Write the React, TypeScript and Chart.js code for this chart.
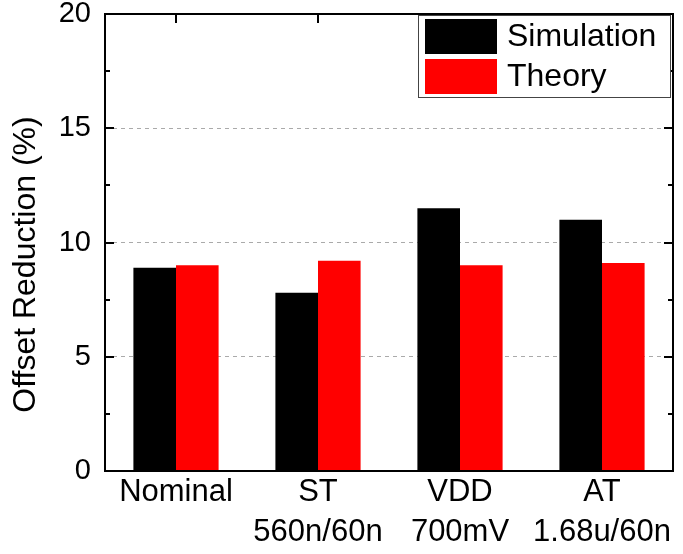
import React, { useEffect, useRef } from "react";
import { Chart, registerables } from "chart.js";

Chart.register(...registerables);

const categories: string[][] = [["Nominal"], ["ST", "560n/60n"], ["VDD", "700mV"], ["AT", "1.68u/60n"]];
const simulation: number[] = [8.9, 7.8, 11.5, 11.0];
const theory: number[] = [9.0, 9.2, 9.0, 9.1];
const yTitle = "Offset Reduction (%)";
const yMin = 0;
const yMax = 20;
const yStep = 5;
const yMinorStep = 2.5;

const FONT = "'Liberation Sans', Arial, sans-serif";

const framePlugin = {
  id: "frameTicks",
  afterDatasetsDraw(chart: any) {
    const { ctx, chartArea, scales } = chart;
    const { left, right, top, bottom } = chartArea;
    const y = scales.y;
    const x = scales.x;
    ctx.save();
    ctx.strokeStyle = "#000";
    ctx.lineWidth = 2;
    ctx.strokeRect(left, top, right - left, bottom - top);
    ctx.beginPath();
    for (let v = yMin; v <= yMax + 1e-9; v += yMinorStep) {
      const py = Math.round(y.getPixelForValue(v));
      const major = Math.abs(v / yStep - Math.round(v / yStep)) < 1e-6;
      const len = major ? 9 : 5;
      ctx.moveTo(left, py);
      ctx.lineTo(left + len, py);
      ctx.moveTo(right, py);
      ctx.lineTo(right - len, py);
    }
    for (let i = 0; i < categories.length; i++) {
      const px = Math.round(x.getPixelForValue(i));
      ctx.moveTo(px, top);
      ctx.lineTo(px, top + 9);
    }
    ctx.stroke();

    // legend
    const boxW = 252;
    const boxH = 82;
    const bx = right - 3 - boxW;
    const by = top + 1;
    ctx.fillStyle = "#fff";
    ctx.fillRect(bx, by, boxW, boxH);
    ctx.lineWidth = 1;
    ctx.strokeStyle = "#444";
    ctx.strokeRect(bx + 0.5, by + 0.5, boxW, boxH);
    const ds = chart.data.datasets;
    ctx.font = `32px ${FONT}`;
    ctx.textAlign = "left";
    ctx.textBaseline = "middle";
    ds.forEach((d: any, i: number) => {
      const sy = by + 4 + i * 40;
      ctx.fillStyle = d.backgroundColor;
      ctx.fillRect(bx + 7, sy, 72, 35);
      ctx.fillStyle = "#000";
      ctx.fillText(d.label, bx + 89, sy + 18);
    });

    // y title
    ctx.save();
    ctx.translate(26, (top + bottom) / 2 + 22);
    ctx.rotate(-Math.PI / 2);
    ctx.font = `32px ${FONT}`;
    ctx.textAlign = "center";
    ctx.textBaseline = "middle";
    ctx.fillStyle = "#000";
    ctx.fillText(yTitle, 0, 0);
    ctx.restore();
    ctx.restore();
  },
};

export default function App() {
  const ref = useRef<HTMLCanvasElement | null>(null);
  useEffect(() => {
    if (!ref.current) return;
    const chart = new Chart(ref.current, {
      type: "bar",
      data: {
        labels: categories,
        datasets: [
          { label: "Simulation", data: simulation, backgroundColor: "#000000", borderWidth: 0 },
          { label: "Theory", data: theory, backgroundColor: "#ff0000", borderWidth: 0 },
        ],
      },
      options: {
        animation: false,
        responsive: true,
        maintainAspectRatio: false,
        layout: { padding: { left: 0, right: 10, top: 14, bottom: 0 } },
        plugins: { legend: { display: false }, tooltip: { enabled: false } },
        datasets: { bar: { categoryPercentage: 0.6, barPercentage: 1.0 } },
        scales: {
          x: {
            grid: { display: false, drawTicks: false },
            border: { display: false },
            ticks: {
              color: "#000",
              font: { family: FONT, size: 31, lineHeight: 1.27 },
              padding: 2,
              maxRotation: 0,
              autoSkip: false,
            },
            afterFit: (s: any) => {
              s.height = 83;
              s.paddingLeft = 0;
              s.paddingRight = 0;
            },
          },
          y: {
            min: yMin,
            max: yMax,
            ticks: {
              stepSize: yStep,
              color: "#000",
              font: { family: FONT, size: 29 },
              padding: 14,
            },
            grid: {
              drawTicks: false,
              color: (c: any) => (c.tick && (c.tick.value === yMin || c.tick.value === yMax) ? "rgba(0,0,0,0)" : "#aaaaaa"),
              lineWidth: 1,
            },
            border: { display: false, dash: [4, 4] },
            afterFit: (s: any) => {
              s.width = 105;
              s.paddingTop = 0;
              s.paddingBottom = 0;
            },
          },
        },
      },
      plugins: [framePlugin],
    } as any);
    return () => chart.destroy();
  }, []);
  return (
    <div style={{ position: "absolute", left: 0, top: 0, width: 683, height: 554, background: "#fff" }}>
      <canvas ref={ref} />
    </div>
  );
}
